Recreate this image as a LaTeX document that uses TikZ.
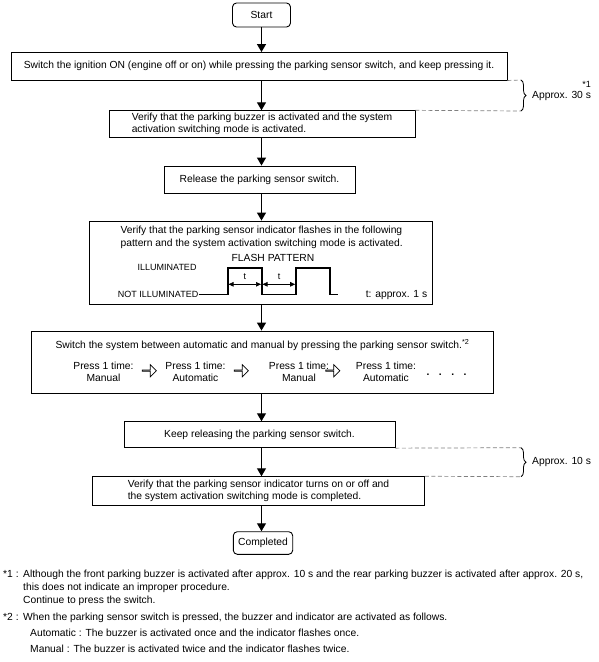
\documentclass[tikz,border=0pt]{standalone}
\usepackage{fontspec}
\setmainfont{Liberation Sans}
\usepackage{tikz}
\usetikzlibrary{positioning}
\usetikzlibrary{arrows.meta}
\usetikzlibrary{shapes.arrows}
\usetikzlibrary{decorations.pathreplacing}
\tikzset{%
  stepbox/.style={draw,line width=0.9pt,inner sep=2pt,align=left},
  endbox/.style={stepbox,rounded corners=4pt,align=center},
  flow/.style={line width=1.3pt,-{Triangle[length=8pt,width=9pt]}},
  guide/.style={gray,line width=0.7pt,dash pattern=on 4pt off 2.5pt},
  curly/.style={decorate,decoration={brace,amplitude=5pt},line width=0.8pt},
  wave/.style={line width=1.6pt},
  span/.style={line width=0.7pt,{Triangle[length=5pt,width=4.5pt]}-{Triangle[length=5pt,width=4.5pt]}},
  hollow/.style={single arrow,draw,fill=white,line width=0.7pt,minimum height=14pt,
    minimum width=12pt,single arrow head extend=3pt,single arrow head indent=0pt,inner sep=0pt},
  small/.style={font=\fontsize{9}{10}\selectfont,inner sep=0pt},
  note/.style={inner sep=0pt,anchor=base west}
}

\begin{document}
\begin{tikzpicture}[x=1pt,y=-1pt,font=\fontsize{10.3}{12.4}\selectfont]
  \useasboundingbox (0,0) rectangle (598,662);

  % main steps
  \node[endbox,minimum width=58pt,minimum height=24pt] (start) at (261.5,15) {Start};
  \node[stepbox,minimum width=496pt,minimum height=27.5pt] (ign) at (259,66.25)
    {Switch the ignition ON (engine off or on) while pressing the parking sensor switch, and keep pressing it.};
  \node[stepbox,minimum width=306pt,minimum height=26.5pt] (buzz) at (262,124)
    {Verify that the parking buzzer is activated and the system\\activation switching mode is activated.};
  \node[stepbox,minimum width=191pt,minimum height=27pt] (rel) at (259.5,179.5)
    {Release the parking sensor switch.};
  \node[stepbox,minimum width=343.4pt,minimum height=83.3pt] (flash) at (261,262.65) {};
  \node[stepbox,minimum width=462pt,minimum height=62.3pt] (mode) at (262,362.15) {};
  \node[stepbox,minimum width=271pt,minimum height=26pt] (keep) at (259.5,434.7)
    {Keep releasing the parking sensor switch.};
  \node[stepbox,minimum width=331.6pt,minimum height=28.3pt] (fin) at (258.5,490.85)
    {Verify that the parking sensor indicator turns on or off and\\the system activation switching mode is completed.};
  \node[endbox,minimum width=59.4pt,minimum height=22.6pt,inner sep=1pt] (done) at (263,543) {Completed};

  \draw[flow] (start) -- (ign.north -| start);
  \draw[flow] (ign.south -| start) -- (buzz.north -| start);
  \draw[flow] (buzz.south -| start) -- (rel.north -| start);
  \draw[flow] (rel.south -| start) -- (flash.north -| start);
  \draw[flow] (flash.south -| start) -- (mode.north -| start);
  \draw[flow] (mode.south -| start) -- (keep.north -| start);
  \draw[flow] (keep.south -| start) -- (fin.north -| start);
  \draw[flow] (fin.south -| start) -- (done.north -| start);

  % flash pattern
  \node[align=left] (flashtxt) at (261.7,237.5)
    {Verify that the parking sensor indicator flashes in the following\\pattern and the system activation switching mode is activated.};
  \node[inner sep=0pt] (pattern) at (273,258.3) {FLASH PATTERN};
  \node[small,anchor=east] (ill) at (196.7,267.7) {ILLUMINATED};
  \node[small,anchor=east] (notill) at (198.5,294.5) {NOT ILLUMINATED};
  \node[inner sep=0pt] (period) at (396.5,295) {t: approx. 1 s};
  \draw[wave] (notill.east) -- (227.7,294.5) -- (227.7,267.7) -- (261.7,267.7) -- (261.7,294.5)
    -- (296,294.5) -- (296,267.7) -- (330,267.7) -- (330,294.5) -- (338,294.5);
  \draw[span] (228.5,284.3) -- (261,284.3);
  \draw[span] (262.5,284.3) -- (295.2,284.3);
  \node[small] (t1) at (244.8,276.7) {t};
  \node[small] (t2) at (279,276.7) {t};

  % switching row
  \node[inner sep=0pt] (modetxt) at (262.5,345) {Switch the system between automatic and manual by pressing the parking sensor switch.\textsuperscript{*2}};
  \node[align=center,inner sep=0pt] (p1) at (103.5,372) {Press 1 time:\\Manual};
  \node[align=center,inner sep=0pt] (p2) at (195.5,372) {Press 1 time:\\Automatic};
  \node[align=center,inner sep=0pt] (p3) at (299,372) {Press 1 time:\\Manual};
  \node[align=center,inner sep=0pt] (p4) at (386,372) {Press 1 time:\\Automatic};
  \node[hollow] (h1) at (149,370.7) {};
  \node[hollow] (h2) at (241,370.7) {};
  \node[hollow] (h3) at (332.5,370.7) {};
  \node[inner sep=0pt,anchor=base] (dots) at (446.5,375) {\textbf{.}\hspace{9.5pt}\textbf{.}\hspace{9.5pt}\textbf{.}\hspace{9.5pt}\textbf{.}};

  % timing braces
  \coordinate (b1t) at (521,80);
  \coordinate (b1b) at (521,111);
  \coordinate (b1tip) at (527,95.5);
  \draw[guide] (ign.south east) -- (b1t);
  \draw[guide] (buzz.north east) -- (b1b);
  \draw[curly] (b1t) -- (b1b);
  \node[right=5pt of b1tip,inner sep=0pt] (t30) {Approx. 30 s};
  \node[small] (star1) at (586.5,84) {*1};

  \coordinate (b2t) at (521,447.7);
  \coordinate (b2b) at (521,476.7);
  \coordinate (b2tip) at (527,462.2);
  \draw[guide] (keep.south east) -- (b2t);
  \draw[guide] (fin.north east) -- (b2b);
  \draw[curly] (b2t) -- (b2b);
  \node[right=5pt of b2tip,inner sep=0pt] (t10) {Approx. 10 s};

  % footnotes
  \node[note] (n1) at (3,577.5) {*1 :};
  \node[note] (n1a) at (23,577.5) {Although the front parking buzzer is activated after approx. 10 s and the rear parking buzzer is activated after approx. 20 s,};
  \node[note] (n1b) at (23,590.5) {this does not indicate an improper procedure.};
  \node[note] (n1c) at (23,603.5) {Continue to press the switch.};
  \node[note] (n2) at (3,620.5) {*2 :};
  \node[note] (n2a) at (23,620.5) {When the parking sensor switch is pressed, the buzzer and indicator are activated as follows.};
  \node[note] (n2b) at (30,636) {Automatic : The buzzer is activated once and the indicator flashes once.};
  \node[note] (n2c) at (30,652) {Manual : The buzzer is activated twice and the indicator flashes twice.};
\end{tikzpicture}
\end{document}
